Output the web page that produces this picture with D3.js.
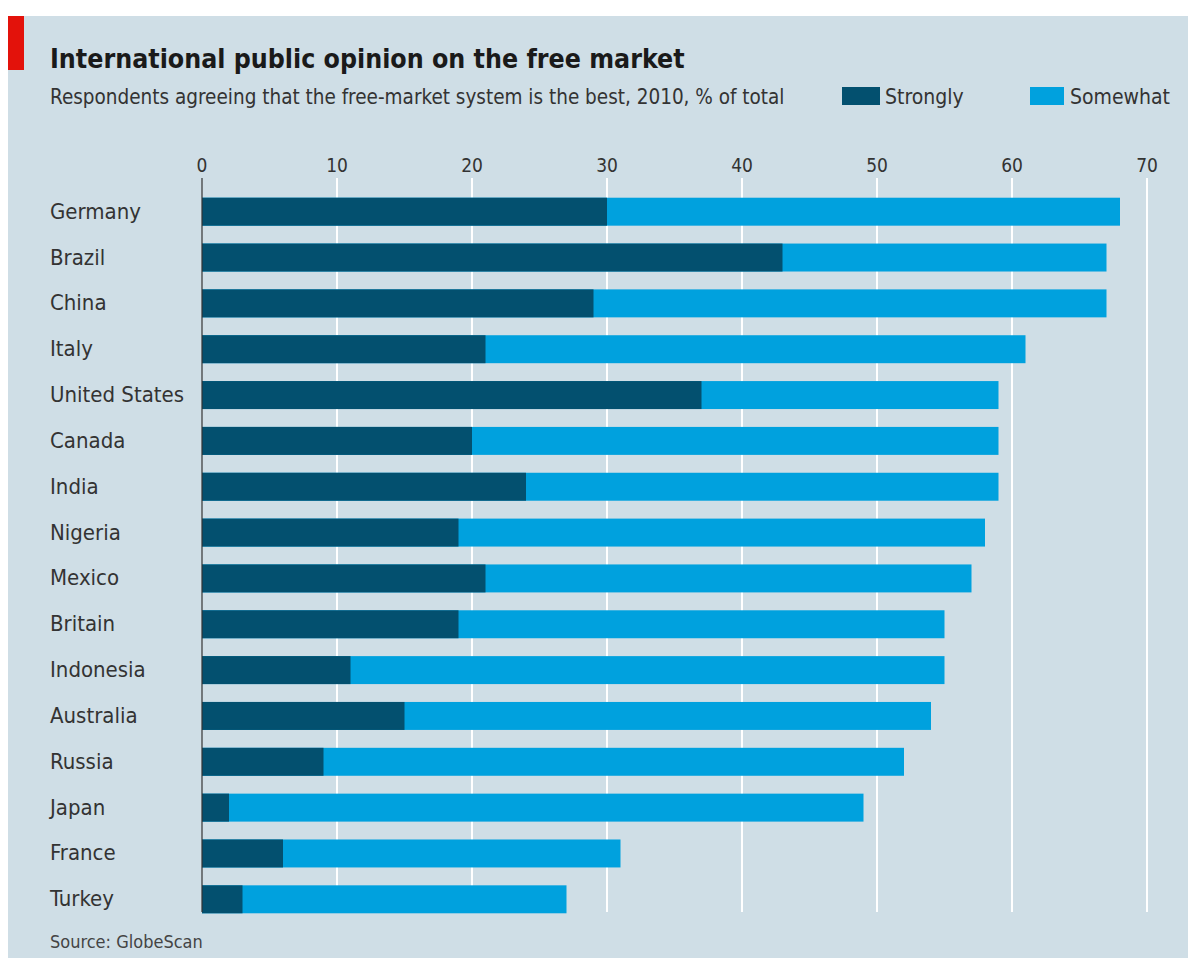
<!DOCTYPE html>
<html>
<head>
<meta charset="utf-8">
<script src="https://cdn.jsdelivr.net/npm/d3@7"></script>
<style>
  body { margin: 0; background: #fff; }
  text { font-family: 'DejaVu Sans Condensed', sans-serif; }
</style>
</head>
<body>
<div id="chart"></div>
<script>
// data
let countries = ['Germany', 'Brazil', 'China', 'Italy', 'United States', 'Canada', 'India', 'Nigeria',
  'Mexico', 'Britain', 'Indonesia', 'Australia', 'Russia', 'Japan', 'France', 'Turkey']

let strongly = [30, 43, 29, 21, 37, 20, 24, 19, 21, 19, 11, 15, 9, 2, 6, 3]

let total = [68, 67, 67, 61, 59, 59, 59, 58, 57, 55, 55, 54, 52, 49, 31, 27]

let ticks = [0, 10, 20, 30, 40, 50, 60, 70]

let seriesNames = ['Strongly', 'Somewhat']

let colors = { Strongly: '#03506f', Somewhat: '#00a1de' }

let width = 1188, height = 958

let svg = d3.select('#chart')
.append('svg')
.attr('width', width)
.attr('height', height)

// panel
svg.append('rect')
.attr('x', 8).attr('y', 16)
.attr('width', width - 8).attr('height', height - 16)
.attr('fill', '#cfdee6')

svg.append('rect')
.attr('x', 8).attr('y', 16)
.attr('width', 16).attr('height', 54)
.attr('fill', '#e3120b')

svg.append('text')
.attr('x', 50).attr('y', 68)
.style('font-weight', 'bold')
.style('font-size', '26.5px')
.attr('fill', '#1a1a1a')
.text('International public opinion on the free market')

svg.append('text')
.attr('x', 50).attr('y', 104)
.style('font-size', '20.5px')
.attr('fill', '#333')
.text('Respondents agreeing that the free-market system is the best, 2010, % of total')

// legend
let legendX = [842, 1030]
seriesNames.forEach((s, i) => {
    svg.append('rect')
    .attr('x', legendX[i]).attr('y', 87)
    .attr('width', i == 0 ? 38 : 34).attr('height', 18)
    .attr('fill', colors[s])

    svg.append('text')
    .attr('x', legendX[i] + (i == 0 ? 43 : 40)).attr('y', 104)
    .style('font-size', '21px')
    .attr('fill', '#333')
    .text(s)
})

let x = d3.scaleLinear()
.domain([0, 70])
.range([202, 1147])

let y = d3.scaleBand()
.domain(countries)
.range([189, 922])
.paddingInner(0.39)
.paddingOuter(0.19)

// grid
svg.append('g')
.selectAll('line')
.data(ticks.filter(t => t > 0))
.join('line')
.attr('x1', d => x(d)).attr('x2', d => x(d))
.attr('y1', 178).attr('y2', 912)
.attr('stroke', '#fff')
.attr('stroke-width', 2)

svg.append('g')
.selectAll('text')
.data(ticks)
.join('text')
.attr('x', d => x(d))
.attr('y', 172)
.attr('text-anchor', 'middle')
.style('font-size', '19px')
.attr('fill', '#333')
.text(d => d)

let rows = countries.map((c, i) => ({ name: c, strong: strongly[i], total: total[i] }))

let g = svg.append('g')

g.selectAll('.some')
.data(rows)
.join('rect')
.attr('class', 'some')
.attr('x', x(0))
.attr('y', d => y(d.name))
.attr('width', d => x(d.total) - x(0))
.attr('height', y.bandwidth())
.attr('fill', colors.Somewhat)

g.selectAll('.strong')
.data(rows)
.join('rect')
.attr('class', 'strong')
.attr('x', x(0))
.attr('y', d => y(d.name))
.attr('width', d => x(d.strong) - x(0))
.attr('height', y.bandwidth())
.attr('fill', colors.Strongly)

// zero line
svg.append('line')
.attr('x1', x(0)).attr('x2', x(0))
.attr('y1', 178).attr('y2', 912)
.attr('stroke', '#333')
.attr('stroke-width', 1.2)

g.selectAll('.label')
.data(rows)
.join('text')
.attr('class', 'label')
.attr('x', 50)
.attr('y', d => y(d.name) + y.bandwidth() / 2 + 7)
.style('font-size', '22px')
.attr('fill', '#333')
.text(d => d.name)

svg.append('text')
.attr('x', 50).attr('y', 948)
.style('font-size', '18px')
.attr('fill', '#444')
.text('Source: GlobeScan')
</script>
</body>
</html>
